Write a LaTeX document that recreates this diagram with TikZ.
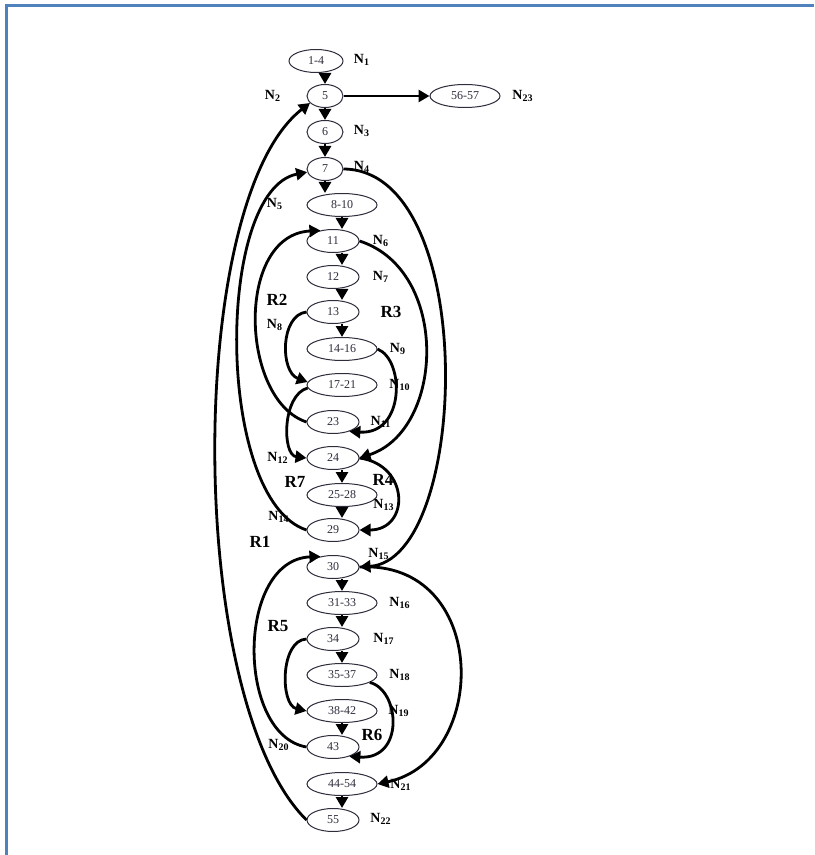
\documentclass[tikz,border=0pt]{standalone}
\usepackage{fontspec}
\setmainfont{Liberation Serif}
\usepackage{tikz}
\usetikzlibrary{positioning,arrows.meta,shapes.geometric}
\definecolor{frameblue}{RGB}{79,129,189}
\definecolor{ink}{RGB}{45,45,60}
\newcommand{\nlab}[1]{N\textsubscript{#1}}

\begin{document}
\begin{tikzpicture}[x=0.5pt,y=-0.5pt,
		blk/.style={ellipse, draw=ink, line width=0.5pt, inner sep=0pt,
			minimum height=11.5pt, text=ink, font=\fontsize{6}{7}\selectfont},
		sm/.style={blk, minimum width=18pt},
		md/.style={blk, minimum width=26pt},
		lg/.style={blk, minimum width=35pt},
		tag/.style={font=\bfseries\fontsize{7}{8}\selectfont},
		reg/.style={font=\bfseries\fontsize{8.5}{9}\selectfont},
		arr/.style={-{Triangle[length=5.5pt,width=6pt]}, line width=1.4pt}]
	\useasboundingbox (0,0) rectangle (814,855);
	\draw[frameblue, line width=1.5pt] (6,855) -- (6,6) -- (814,6);

	% blocks
	\node[blk, minimum width=27pt] (n1) at (316,61) {1-4};
	\node[sm] (n2) at (325,96) {5};
	\node[lg] (n23) at (465,96) {56-57};
	\node[sm] (n3) at (325,132) {6};
	\node[sm] (n4) at (325,169) {7};
	\node[lg] (n5) at (342,205) {8-10};
	\node[md] (n6) at (333,241) {11};
	\node[md] (n7) at (333,277) {12};
	\node[md] (n8) at (333,312) {13};
	\node[lg] (n9) at (342,349) {14-16};
	\node[lg] (n10) at (342,385) {17-21};
	\node[md] (n11) at (333,422) {23};
	\node[md] (n12) at (333,458) {24};
	\node[lg] (n13) at (342,495) {25-28};
	\node[md] (n14) at (333,530) {29};
	\node[md] (n15) at (333,567) {30};
	\node[lg] (n16) at (342,603) {31-33};
	\node[md] (n17) at (333,639) {34};
	\node[lg] (n18) at (342,675) {35-37};
	\node[lg] (n19) at (342,711) {38-42};
	\node[md] (n20) at (333,747) {43};
	\node[lg] (n21) at (342,784) {44-54};
	\node[md] (n22) at (333,820) {55};

	% labels
	\node[tag] (l1) at (362,60) {\nlab{1}};
	\node[tag] (l2) at (273,96) {\nlab{2}};
	\node[tag] (l23) at (523,96) {\nlab{23}};
	\node[tag] (l3) at (362,131) {\nlab{3}};
	\node[tag] (l4) at (362,167) {\nlab{4}};
	\node[tag] (l5) at (275,204) {\nlab{5}};
	\node[tag] (l6) at (381,241) {\nlab{6}};
	\node[tag] (l7) at (381,277) {\nlab{7}};
	\node[tag] (l8) at (275,325) {\nlab{8}};
	\node[tag] (l9) at (398,349) {\nlab{9}};
	\node[tag] (l10) at (400,385) {\nlab{10}};
	\node[tag] (l11) at (381,422) {\nlab{11}};
	\node[tag] (l12) at (278,458) {\nlab{12}};
	\node[tag] (l13) at (384,505) {\nlab{13}};
	\node[tag] (l14) at (279,517) {\nlab{14}};
	\node[tag] (l15) at (379,554) {\nlab{15}};
	\node[tag] (l16) at (400,603) {\nlab{16}};
	\node[tag] (l17) at (384,639) {\nlab{17}};
	\node[tag] (l18) at (400,675) {\nlab{18}};
	\node[tag] (l19) at (399,711) {\nlab{19}};
	\node[tag] (l20) at (279,745) {\nlab{20}};
	\node[tag] (l21) at (401,785) {\nlab{21}};
	\node[tag] (l22) at (381,819) {\nlab{22}};
	\node[reg] (r1) at (260,542) {R1};
	\node[reg] (r2) at (277,300) {R2};
	\node[reg] (r3) at (391,312) {R3};
	\node[reg] (r4) at (383,480) {R4};
	\node[reg] (r5) at (278,626) {R5};
	\node[reg] (r6) at (372,735) {R6};
	\node[reg] (r7) at (295,482) {R7};

	% straight flow
	\draw[arr] (n2.north |- n1.south) -- (n2.north);
	\draw[arr] (n2.south) -- (n3.north);
	\draw[arr] (n3.south) -- (n4.north);
	\draw[arr] (n4.south) -- (n4.south |- n5.north);
	\draw[arr] (n5.south) -- (n5.south |- n6.north);
	\draw[arr] (n6.south -| n5) -- (n7.north -| n5);
	\draw[arr] (n7.south -| n5) -- (n8.north -| n5);
	\draw[arr] (n8.south -| n9) -- (n9.north);
	\draw[arr] (n12.south -| n13) -- (n13.north);
	\draw[arr] (n13.south) -- (n14.north -| n13);
	\draw[arr] (n15.south -| n16) -- (n16.north);
	\draw[arr] (n16.south) -- (n17.north -| n16);
	\draw[arr] (n17.south -| n18) -- (n18.north);
	\draw[arr] (n19.south) -- (n20.north -| n19);
	\draw[arr] (n21.south) -- (n22.north -| n21);
	\draw[arr] (n2.east) -- (n23.west);

	% back and forward edges
	\draw[arr] (n22.west) .. controls (185,700) and (185,200) .. (n2.205);
	\draw[arr] (n14.west) .. controls (215,500) and (215,190) .. (n4.190);
	\draw[arr] (n11.west) .. controls (240,400) and (235,235) .. (n6.140);
	\draw[arr] (n8.west) .. controls (280,315) and (280,372) .. (n10.175);
	\draw[arr] (n10.185) .. controls (282,395) and (282,455) .. (n12.west);
	\draw[arr] (n6.east) .. controls (450,270) and (445,430) .. (n12.east);
	\draw[arr] (n9.east) .. controls (405,360) and (405,435) .. (n11.330);
	\draw[arr] (n4.east) .. controls (480,170) and (470,560) .. (n15.east);
	\draw[arr] (n12.east) .. controls (410,465) and (410,530) .. (n14.east);
	\draw[arr] (n20.west) .. controls (236,735) and (236,560) .. (n15.140);
	\draw[arr] (n17.west) .. controls (280,640) and (280,705) .. (n19.west);
	\draw[arr] (n18.345) .. controls (400,690) and (405,760) .. (n20.330);
	\draw[arr] (n15.east) .. controls (490,560) and (490,760) .. (n21.east);
\end{tikzpicture}
\end{document}
